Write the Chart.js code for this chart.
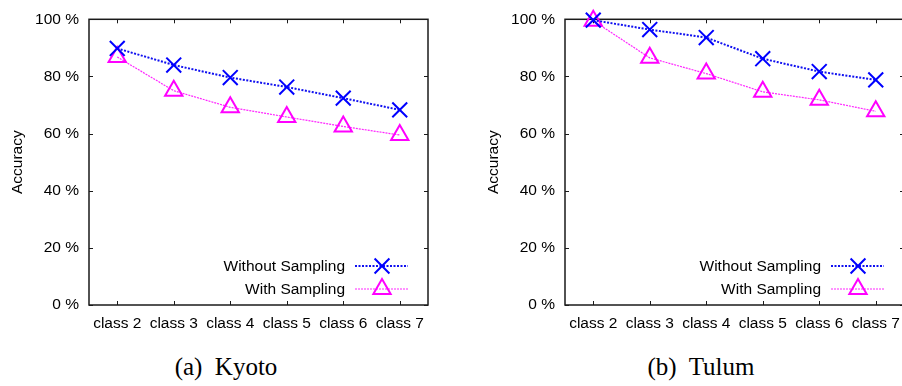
<!DOCTYPE html>
<html>
<head>
<meta charset="utf-8">
<script src="https://cdn.jsdelivr.net/npm/chart.js@4.4.1/dist/chart.umd.min.js"></script>
<style>
    html, body { margin: 0; padding: 0; background: #fff; }
    body { width: 902px; height: 386px; position: relative; overflow: hidden; }
    .panel { position: absolute; top: 0; width: 451px; height: 340px; }
    .caption {
        position: absolute; top: 353px; width: 200px; text-align: center;
        font-family: "Liberation Serif", "Times New Roman", serif; font-size: 25px;
        color: #000; white-space: pre;
    }
</style>
</head>
<body>
<div class="panel" style="left:0px"><canvas id="kyotoChart" width="451" height="340"></canvas></div>
<div class="panel" style="left:476px"><canvas id="tulumChart" width="451" height="340"></canvas></div>
<div class="caption" style="left:126px">(a)  Kyoto</div>
<div class="caption" style="left:601px">(b)  Tulum</div>

<script>
const classes = ['class 2', 'class 3', 'class 4', 'class 5', 'class 6', 'class 7'];
const yTicks = [0, 20, 40, 60, 80, 100];

const kyotoWithout = [89.8, 84.0, 79.6, 76.3, 72.4, 68.3];
const kyotoWith = [86.8, 75.0, 69.2, 65.8, 62.5, 59.5];

const tulumWithout = [99.7, 96.4, 93.6, 86.2, 81.7, 78.8];
const tulumWith = [99.5, 86.5, 81.0, 74.6, 71.8, 67.8];

const FONT = 'Liberation Sans, Arial, Helvetica, sans-serif';
const FONT_SIZE = 15.5;

// gnuplot style box with inward ticks on all four sides
const frameBox = {
    id: 'frameBox',
    beforeDatasetsDraw(chart) {
        const { ctx, chartArea: a, scales } = chart;
        ctx.save();
        ctx.strokeStyle = '#1a1a1a';
        ctx.lineWidth = 1.5;
        ctx.strokeRect(a.left, a.top, a.right - a.left, a.bottom - a.top);
        ctx.lineWidth = 1;
        ctx.beginPath();
        yTicks.forEach(v => {
            const y = Math.round(scales.y.getPixelForValue(v)) + 0.5;
            ctx.moveTo(a.left, y); ctx.lineTo(a.left + 4, y);
            ctx.moveTo(a.right, y); ctx.lineTo(a.right - 4, y);
        });
        classes.forEach((c, i) => {
            const x = Math.round(scales.x.getPixelForValue(i)) + 0.5;
            ctx.moveTo(x, a.bottom); ctx.lineTo(x, a.bottom - 4);
            ctx.moveTo(x, a.top); ctx.lineTo(x, a.top + 4);
        });
        ctx.stroke();
        ctx.restore();
    }
};

function drawMarker(ctx, style, x, y, r) {
    ctx.beginPath();
    if (style === 'crossRot') {
        const d = r * Math.SQRT1_2;
        ctx.moveTo(x - d, y - d); ctx.lineTo(x + d, y + d);
        ctx.moveTo(x + d, y - d); ctx.lineTo(x - d, y + d);
    } else {
        const h = r * Math.sqrt(3) / 2;
        ctx.moveTo(x, y - r);
        ctx.lineTo(x + h, y + r / 2);
        ctx.lineTo(x - h, y + r / 2);
        ctx.closePath();
    }
    ctx.stroke();
}

// legend in the lower right corner: text, then line sample with marker
const insideLegend = {
    id: 'insideLegend',
    afterDatasetsDraw(chart) {
        const { ctx, chartArea: a } = chart;
        const rows = [a.bottom - 39, a.bottom - 16];
        ctx.save();
        chart.data.datasets.forEach((ds, i) => {
            const y = rows[i];
            ctx.fillStyle = '#000';
            ctx.font = FONT_SIZE + 'px ' + FONT;
            ctx.textAlign = 'right';
            ctx.textBaseline = 'middle';
            ctx.fillText(ds.label, a.right - 83, y + 1);
            ctx.strokeStyle = ds.borderColor;
            ctx.lineWidth = ds.borderWidth;
            ctx.setLineDash(ds.borderDash);
            ctx.beginPath();
            ctx.moveTo(a.right - 73, y); ctx.lineTo(a.right - 20, y);
            ctx.stroke();
            ctx.setLineDash([]);
            ctx.strokeStyle = ds.pointBorderColor;
            ctx.lineWidth = ds.pointBorderWidth;
            drawMarker(ctx, ds.pointStyle, a.right - 46, y, ds.pointRadius);
        });
        ctx.restore();
    }
};

function createChart(ctx, withoutData, withData) {
    return new Chart(ctx, {
        type: 'line',
        data: {
            labels: classes,
            datasets: [{
                label: 'Without Sampling',
                data: withoutData,
                borderColor: '#1010f0',
                borderWidth: 2,
                borderDash: [2, 1.5],
                pointStyle: 'crossRot',
                pointRadius: 10.5,
                pointBorderColor: '#0000ff',
                pointBorderWidth: 2,
                pointBackgroundColor: 'transparent',
                clip: false
            }, {
                label: 'With Sampling',
                data: withData,
                borderColor: 'rgba(255, 0, 255, 0.85)',
                borderWidth: 1.2,
                borderDash: [2, 1],
                pointStyle: 'triangle',
                pointRadius: 10,
                pointBorderColor: '#ff00ff',
                pointBorderWidth: 2,
                pointBackgroundColor: 'transparent',
                clip: false
            }]
        },
        options: {
            responsive: false,
            animation: false,
            layout: { padding: { left: 0, top: 13, right: 23, bottom: 0 } },
            plugins: { legend: { display: false }, tooltip: { enabled: false } },
            scales: {
                x: {
                    type: 'category',
                    offset: true,
                    grid: { display: false, drawTicks: false },
                    border: { display: false },
                    ticks: { color: '#000', font: { family: FONT, size: FONT_SIZE }, padding: 9, maxRotation: 0, autoSkip: false },
                    afterFit(scale) { scale.height = 35; }
                },
                y: {
                    min: 0,
                    max: 100,
                    grid: { display: false, drawTicks: false },
                    border: { display: false },
                    ticks: { stepSize: 20, color: '#000', font: { family: FONT, size: FONT_SIZE }, padding: 10,
                        callback: v => v + ' %' },
                    title: { display: true, text: 'Accuracy', color: '#000',
                        font: { family: FONT, size: FONT_SIZE }, padding: { top: 8, bottom: 0 } },
                    afterFit(scale) { scale.width = 89; }
                }
            }
        },
        plugins: [frameBox, insideLegend]
    });
}

document.addEventListener("DOMContentLoaded", function () {
    createChart(document.getElementById('kyotoChart').getContext('2d'), kyotoWithout, kyotoWith);
    createChart(document.getElementById('tulumChart').getContext('2d'), tulumWithout, tulumWith);
});
</script>
</body>
</html>
